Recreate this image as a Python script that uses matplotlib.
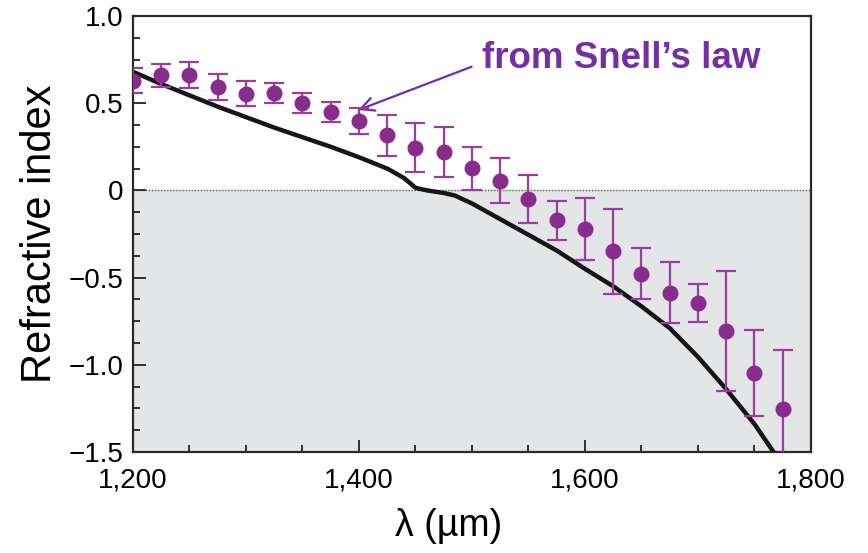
import numpy as np
import matplotlib
matplotlib.use("Agg")
import matplotlib.pyplot as plt
from matplotlib.ticker import MultipleLocator, FuncFormatter

plt.rcParams['font.family'] = ['Liberation Sans', 'DejaVu Sans']

# Measured refractive index (Snell's law) with uncertainties
wl_meas = [1200, 1225, 1250, 1275, 1300, 1325, 1350, 1375, 1400, 1425, 1450, 1475,
           1500, 1525, 1550, 1575, 1600, 1625, 1650, 1675, 1700, 1725, 1750, 1775]
n_meas = [0.63, 0.66, 0.66, 0.595, 0.555, 0.56, 0.50, 0.45, 0.40, 0.315, 0.245, 0.22,
          0.128, 0.056, -0.05, -0.172, -0.222, -0.35, -0.479, -0.586, -0.647, -0.808,
          -1.046, -1.253]
n_err = [0.07, 0.065, 0.075, 0.075, 0.07, 0.058, 0.058, 0.056, 0.075, 0.117, 0.14, 0.146,
         0.123, 0.128, 0.138, 0.11, 0.176, 0.246, 0.146, 0.175, 0.11, 0.345, 0.247, 0.34]

# Simulated refractive index curve
wl_sim = [1200, 1225, 1250, 1275, 1300, 1325, 1350, 1375, 1400, 1425, 1440, 1450, 1460,
          1475, 1485, 1500, 1525, 1550, 1575, 1600, 1625, 1650, 1675, 1700, 1725, 1750, 1770]
n_sim = [0.68, 0.61, 0.545, 0.48, 0.42, 0.36, 0.305, 0.25, 0.19, 0.125, 0.07, 0.015, 0.0,
         -0.015, -0.03, -0.075, -0.165, -0.255, -0.345, -0.45, -0.55, -0.665, -0.79,
         -0.955, -1.14, -1.34, -1.53]

x_ticks = [1200, 1400, 1600, 1800]
y_ticks = [1.0, 0.5, 0.0, -0.5, -1.0, -1.5]

fig = plt.figure(figsize=(8.68, 5.53), dpi=100)
ax = fig.add_axes([0.1532, 0.1827, 0.7811, 0.7884])

xmin, xmax = 1200, 1800
ymin, ymax = -1.5, 1.0
ax.set_xlim(xmin, xmax)
ax.set_ylim(ymin, ymax)

# negative-index region
ax.axhspan(ymin, 0, color='#e4e5e7', zorder=0, lw=0)
ax.axhline(0, color='#555555', lw=1.0, ls=(0, (1, 1.2)), zorder=1)

ax.plot(wl_sim, n_sim, color='#161616', lw=3.2, solid_capstyle='butt', zorder=3)

ax.errorbar(wl_meas, n_meas, yerr=n_err, fmt='o', color='#892d8d', ms=10.5,
            ecolor='#9a3ca0', elinewidth=1.6, capsize=7, capthick=1.6, zorder=4)

# label and pointer
ax.text(1509, 0.699, "from Snell\u2019s law", color='#7330a4', fontsize=26.5,
        fontweight='bold', ha='left', va='baseline')
ax.annotate("", xy=(1399.4, 0.461), xytext=(1499.7, 0.709),
            arrowprops=dict(arrowstyle='->', color='#6e2fae', lw=1.6,
                            shrinkA=0, shrinkB=0, mutation_scale=24))

ax.set_xticks(x_ticks)
ax.xaxis.set_minor_locator(MultipleLocator(50))
ax.xaxis.set_major_formatter(FuncFormatter(lambda v, p: f"{int(v):,}"))
ax.set_yticks(y_ticks)
ax.yaxis.set_minor_locator(MultipleLocator(0.125))
ax.yaxis.set_major_formatter(FuncFormatter(
    lambda v, p: "0" if abs(v) < 1e-9 else f"{v:.1f}".replace('-', '\u2212')))

ax.tick_params(which='both', direction='in', labelsize=20, color='#222222',
               top=False, right=False)
ax.tick_params(which='major', length=9, width=1.3)
ax.tick_params(which='minor', length=5, width=1.3)
ax.tick_params(axis='x', which='major', pad=11)
ax.tick_params(axis='y', which='major', pad=7)

for s in ax.spines.values():
    s.set_linewidth(1.6)
    s.set_color('#2a2a2a')

ax.set_xlabel("\u03bb (\u00b5m)", fontsize=27)
ax.xaxis.set_label_coords(0.466, -0.128)
ax.set_ylabel("Refractive index", fontsize=30, labelpad=6)

fig.savefig("out.png", dpi=100)
